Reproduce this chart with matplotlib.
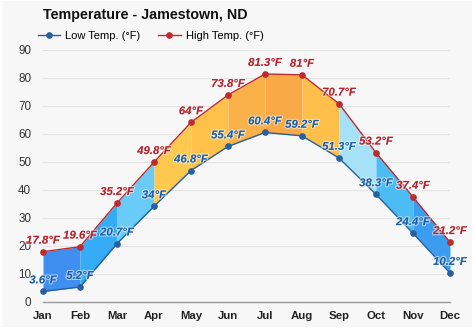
import matplotlib
matplotlib.use("Agg")
import matplotlib.pyplot as plt
import matplotlib.patheffects as pe
from matplotlib.patches import Rectangle

plt.rcParams['font.family'] = ['Liberation Sans', 'DejaVu Sans']

# --- monthly temperatures (°F) ---
months = ["Jan", "Feb", "Mar", "Apr", "May", "Jun",
          "Jul", "Aug", "Sep", "Oct", "Nov", "Dec"]
high_temp = [17.8, 19.6, 35.2, 49.8, 64, 73.8, 81.3, 81, 70.7, 53.2, 37.4, 21.2]
low_temp = [3.6, 5.2, 20.7, 34, 46.8, 55.4, 60.4, 59.2, 51.3, 38.3, 24.4, 10.2]
y_ticks = [0, 10, 20, 30, 40, 50, 60, 70, 80, 90]

# band colour between month i and i+1
band_colors = ["#3f8ff0", "#36abf6", "#6bcbf8", "#ffc94f", "#fec24b",
               "#fbb149", "#f9a946", "#fec04a", "#a6e1f8", "#4cbcf5", "#3b9cf0"]

high_color = "#bf2a2f"
low_color = "#27609f"
text_high = "#b8202a"
text_low = "#1b5ea8"

fig = plt.figure(figsize=(4.74, 3.31), dpi=100)
fig.patch.set_facecolor("white")
fig.patches.append(Rectangle((0.004, 0.012), 0.992, 0.985, transform=fig.transFigure,
                             facecolor="#f7f7f7", edgecolor="none", zorder=-10))

ax = fig.add_axes([0.0907, 0.089, 0.8586, 0.761])
ax.set_facecolor("none")

x = list(range(len(months)))

for i in range(len(months) - 1):
    ax.fill_between([x[i], x[i + 1]], [low_temp[i], low_temp[i + 1]],
                    [high_temp[i], high_temp[i + 1]],
                    color=band_colors[i], linewidth=0, zorder=2)

ax.plot(x, low_temp, color=low_color, lw=1.0, marker="o", ms=3.8,
        clip_on=False, zorder=4, label="Low Temp. (°F)")
ax.plot(x, high_temp, color=high_color, lw=1.0, marker="o", ms=3.8,
        clip_on=False, zorder=4, label="High Temp. (°F)")

halo = [pe.withStroke(linewidth=1.6, foreground=(1, 1, 1, 0.55))]
for xi, hv, lv in zip(x, high_temp, low_temp):
    ax.annotate(f"{hv:g}°F", (xi, hv), xytext=(0, 8), textcoords="offset points",
                ha="center", va="center", fontsize=8.2, fontweight="bold",
                fontstyle="italic", color=text_high, zorder=6,
                path_effects=halo, annotation_clip=False)
    ax.annotate(f"{lv:g}°F", (xi, lv), xytext=(0, 8), textcoords="offset points",
                ha="center", va="center", fontsize=8.2, fontweight="bold",
                fontstyle="italic", color=text_low, zorder=6,
                path_effects=halo, annotation_clip=False)

ax.set_xlim(0, 11)
ax.set_ylim(0, 90)
ax.set_xticks(x)
ax.set_xticklabels(months, fontweight="bold", fontsize=8.2, color="#222222")
ax.set_yticks(y_ticks)
ax.tick_params(axis="y", labelsize=8.4, colors="#333333", length=0, pad=8.5)
ax.tick_params(axis="x", length=0, pad=7)

for s in ["top", "right", "left"]:
    ax.spines[s].set_visible(False)
ax.spines["bottom"].set_color("#9a9a9a")
ax.spines["bottom"].set_linewidth(1.0)
ax.grid(axis="y", color="#e4e4e4", lw=0.8, zorder=0)
ax.set_axisbelow(True)

fig.text(0.0907, 0.955, "Temperature - Jamestown, ND", fontsize=10.3,
         fontweight="bold", color="#111111", va="center", ha="left")

ax.legend(loc="center left", bbox_to_anchor=(-0.012, 1.055), ncol=2, frameon=False,
          fontsize=8, handlelength=2.0, handletextpad=0.45, columnspacing=1.6,
          borderaxespad=0, borderpad=0)

fig.savefig("out.png", dpi=100, facecolor=fig.get_facecolor())
